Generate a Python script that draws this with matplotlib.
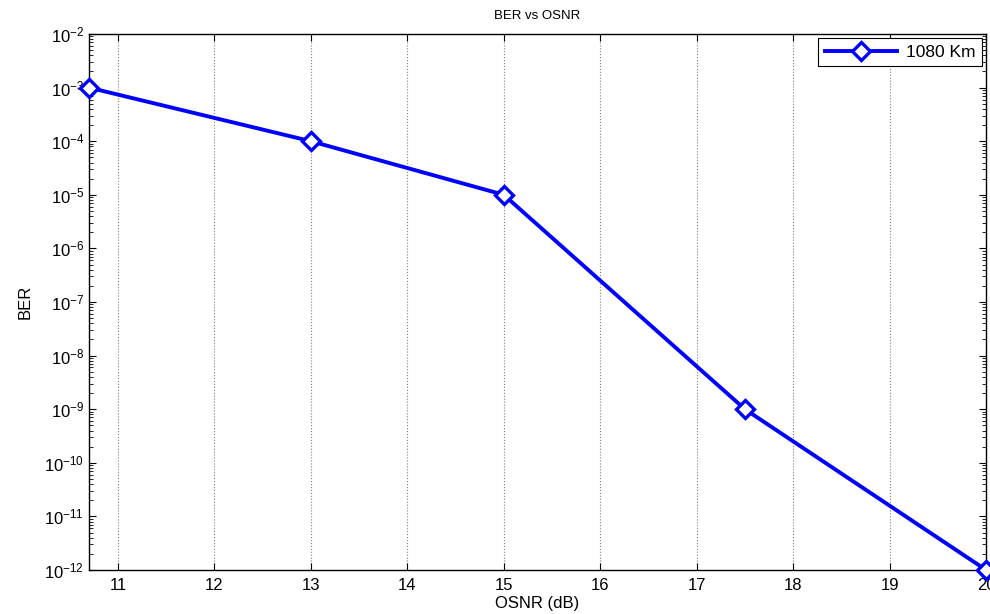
import matplotlib
matplotlib.use('Agg')
import matplotlib.pyplot as plt
from matplotlib.ticker import LogLocator, FixedLocator

plt.rcParams['font.family'] = 'Liberation Sans'
plt.rcParams['mathtext.fontset'] = 'custom'
plt.rcParams['mathtext.rm'] = 'Liberation Sans'
plt.rcParams['mathtext.it'] = 'Liberation Sans:italic'
plt.rcParams['mathtext.bf'] = 'Liberation Sans:bold'

# data
osnr = [10.7, 13, 15, 17.5, 20]
ber = [1e-3, 1e-4, 1e-5, 1e-9, 1e-12]
x_ticks = [11, 12, 13, 14, 15, 16, 17, 18, 19, 20]

fig = plt.figure(figsize=(9.9, 6.14), dpi=100)
ax = fig.add_axes([0.0899, 0.0717, 0.9061, 0.8729])

ax.semilogy(osnr, ber, color='#0000ff', linewidth=2.8, marker='D',
            markersize=9.5, markerfacecolor='white', markeredgecolor='#0000ff',
            markeredgewidth=2.4, label='1080 Km', clip_on=False, zorder=5)

ax.set_xlim(10.7, 20)
ax.set_ylim(1e-12, 1e-2)
ax.xaxis.set_major_locator(FixedLocator(x_ticks))
ax.yaxis.set_major_locator(LogLocator(base=10, numticks=20))
ax.yaxis.set_minor_locator(LogLocator(base=10, subs=range(2, 10), numticks=20))

ax.grid(True, axis='x', which='major', color='#808080', linestyle=':', linewidth=0.8)
ax.tick_params(which='both', direction='in', top=True, right=True, labelsize=12)
ax.tick_params(axis='x', pad=6)
ax.tick_params(which='major', length=5)
ax.tick_params(which='minor', length=3)
for s in ax.spines.values():
    s.set_linewidth(1.0)

ax.set_title('BER vs OSNR', fontsize=9.5, pad=11)
ax.set_xlabel('OSNR (dB)', fontsize=12, labelpad=2)
ax.set_ylabel('BER', fontsize=12, labelpad=8)

leg = ax.legend(loc='upper right', fontsize=12.5, fancybox=False, framealpha=1,
                edgecolor='black', borderaxespad=0.25, handlelength=4.2,
                borderpad=0.35, handletextpad=0.5)
leg.get_frame().set_linewidth(0.8)

fig.savefig('out.png', dpi=100)
